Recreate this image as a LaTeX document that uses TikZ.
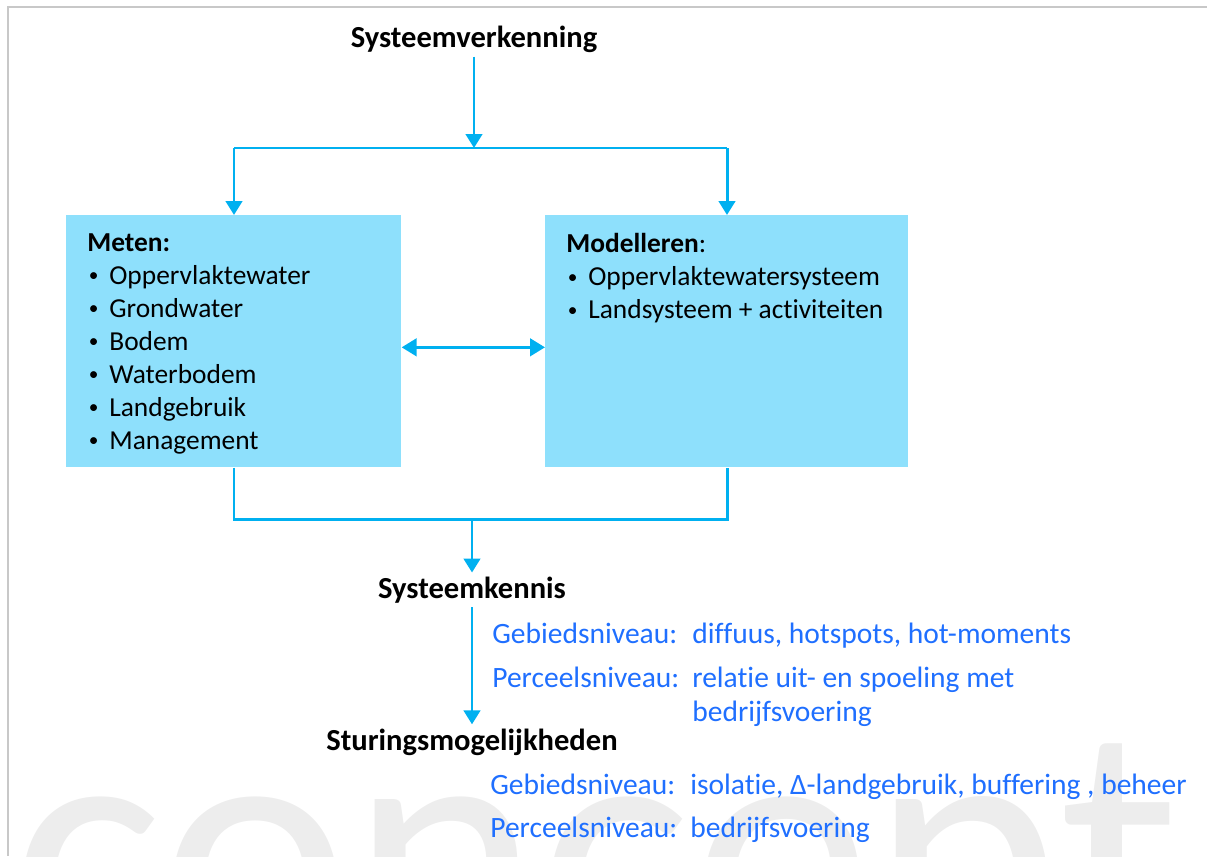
\documentclass[tikz,border=0pt]{standalone}
\usepackage{fontspec}
\setmainfont{Carlito}[Ligatures=NoCommon]
\usetikzlibrary{arrows.meta}
\definecolor{arrowblue}{RGB}{0,176,240}
\definecolor{boxblue}{RGB}{142,224,252}
\definecolor{textblue}{RGB}{31,111,255}
\definecolor{wmgray}{RGB}{237,237,237}
\definecolor{framegray}{RGB}{200,200,200}
\tikzstyle{ln}=[draw=arrowblue,line width=1.7pt]
\tikzstyle{arr}=[ln,-{Triangle[width=0.33cm,length=0.28cm]}]
\tikzstyle{dbl}=[ln,{Triangle[width=0.35cm,length=0.3cm]}-{Triangle[width=0.35cm,length=0.3cm]}]
\tikzstyle{headtxt}=[font=\fontsize{17.4}{20}\selectfont\bfseries,inner sep=0.08cm]
\tikzstyle{bluebox}=[fill=boxblue,anchor=north west,minimum height=5.04cm,inner sep=0]
\tikzstyle{boxtext}=[anchor=north west,align=left,inner sep=0,font=\fontsize{15.6}{18.8}\selectfont]
\tikzstyle{leveltxt}=[anchor=base west,align=left,inner sep=0,text=textblue,font=\fontsize{16.8}{19.35}\selectfont]
\tikzstyle{watermark}=[anchor=base west,inner sep=0,text=wmgray,font=\fontsize{205}{205}\selectfont]
\newcommand{\bul}{\makebox[0.44cm][l]{\hspace{0.03cm}\raisebox{0.05cm}{\fontsize{11}{11}\selectfont\textbullet}}}

\begin{document}
\begin{tikzpicture}[x=0.02cm,y=-0.02cm]
\useasboundingbox (0,0) rectangle (1207,856);
% watermerk
\begin{scope}
\clip (0,0) rectangle (1207,856);
\node[watermark] (wmark) at (11,971) {concept};
\end{scope}
\draw[framegray,line width=0.8pt] (1207,7) -- (8,7) -- (8,856);

% kopjes
\node[headtxt] (verk) at (474,39) {Systeemverkenning};
\node[headtxt] (kennis) at (472,590) {Systeemkennis};
\node[headtxt] (sturing) at (472,742) {Sturingsmogelijkheden};

% blokken
\node[bluebox,minimum width=6.7cm] (meten) at (66,215) {};
\node[bluebox,minimum width=7.26cm] (model) at (545,215) {};
\node[boxtext] (metentxt) at (87,233) {\textbf{Meten:}\\
  \bul Oppervlaktewater\\
  \bul Grondwater\\
  \bul Bodem\\
  \bul Waterbodem\\
  \bul Landgebruik\\
  \bul Management};
\node[boxtext] (modeltxt) at (566,233) {\textbf{Modelleren}:\\
  \bul Oppervlaktewatersysteem\\
  \bul Landsysteem + activiteiten};

% splitsen en samenvoegen
\coordinate (split) at (474,148);
\coordinate (splitL) at (234,148);
\coordinate (splitR) at (727,148);
\coordinate (join) at (472,519);
\coordinate (joinL) at (234,519);
\coordinate (joinR) at (727,519);

\draw[arr] (verk) -- (split);
\draw[ln] (splitL) -- (splitR);
\draw[arr] (splitL) -- (splitL |- meten.north);
\draw[arr] (splitR) -- (splitR |- model.north);
\draw[dbl] ([yshift=-0.12cm]meten.east) -- ([yshift=-0.12cm]model.west);
\draw[ln] (joinL |- meten.south) -- (joinL) -- (joinR) -- (joinR |- model.south);
\draw[arr] (join) -- (kennis);
\draw[arr] (kennis) -- (sturing);

% niveaus
\node[leveltxt] (gebA) at (492,643) {Gebiedsniveau:};
\node[leveltxt] (gebAval) at (692,643) {diffuus, hotspots, hot-moments};
\node[leveltxt] (perA) at (492,687) {Perceelsniveau:};
\node[leveltxt] (perAval) at (692,721) {relatie uit- en spoeling met\\ bedrijfsvoering};
\node[leveltxt] (gebB) at (490,794) {Gebiedsniveau:};
\node[leveltxt] (gebBval) at (690,794) {isolatie, Δ-landgebruik, buffering , beheer};
\node[leveltxt] (perB) at (490,837) {Perceelsniveau:};
\node[leveltxt] (perBval) at (690,837) {bedrijfsvoering};
\end{tikzpicture}
\end{document}
